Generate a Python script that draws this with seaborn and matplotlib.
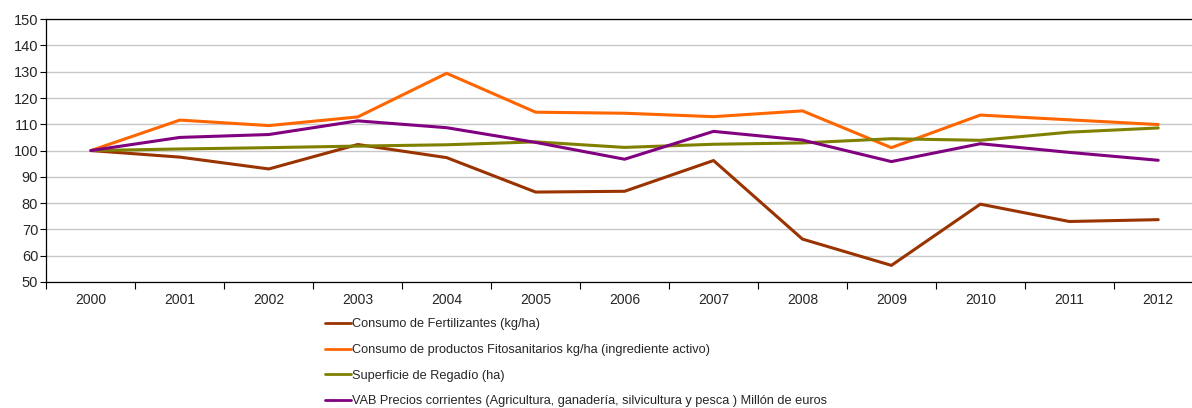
import numpy as np
import pandas as pd
import matplotlib.pyplot as plt
from matplotlib.ticker import FixedLocator
import seaborn as sns

years = [str(y) for y in range(2000, 2013)]
fertilizantes = [100, 97.5, 93.0, 102.3, 97.3, 84.2, 84.5, 96.2, 66.3, 56.3, 79.6, 73.0, 73.7]
fitosanitarios = [100, 111.6, 109.5, 112.8, 129.4, 114.6, 114.2, 112.9, 115.1, 101.1, 113.5, 111.7, 109.9]
regadio = [100, 100.6, 101.1, 101.7, 102.2, 103.3, 101.2, 102.4, 102.9, 104.5, 103.9, 107.0, 108.6]
vab = [100, 105.0, 106.1, 111.3, 108.7, 103.1, 96.7, 107.3, 104.0, 95.8, 102.6, 99.3, 96.3]

series_names = [
    "Consumo de Fertilizantes (kg/ha)",
    "Consumo de productos Fitosanitarios kg/ha (ingrediente activo)",
    "Superficie de Regadío (ha)",
    "VAB Precios corrientes (Agricultura, ganadería, silvicultura y pesca ) Millón de euros",
]
series_values = [fertilizantes, fitosanitarios, regadio, vab]
colors = ["#993300", "#FF6600", "#808000", "#800080"]

rows = []
for name, vals in zip(series_names, series_values):
    for i, v in enumerate(vals):
        rows.append({"idx": i, "valor": v, "serie": name})
df = pd.DataFrame(rows)

sns.set_style("white")
plt.rcParams["font.family"] = ["Liberation Sans", "DejaVu Sans"]

fig = plt.figure(figsize=(11.92, 4.08), dpi=100)
ax = fig.add_axes([0.039, 0.309, 0.961, 0.644])

sns.lineplot(data=df, x="idx", y="valor", hue="serie", hue_order=series_names,
             palette=dict(zip(series_names, colors)), linewidth=2.2, ax=ax,
             legend=False)

ax.set_xlim(-0.5, 12.38)
ax.set_ylim(50, 150)
ax.set_yticks(np.arange(50, 151, 10))
ax.yaxis.grid(True, color="#c8c8c8", linewidth=1)
ax.set_axisbelow(True)

ax.set_xticks(range(len(years)))
ax.set_xticklabels(years)
ax.xaxis.set_minor_locator(FixedLocator(np.arange(-0.5, 13, 1)))
ax.tick_params(axis="x", which="major", length=0, labelsize=10, pad=8)
ax.tick_params(axis="x", which="minor", length=5, width=0.8, color="black", bottom=True)
ax.tick_params(axis="y", length=4, width=0.8, color="black", labelsize=10.5, left=True, pad=2)

ax.set_xlabel("")
ax.set_ylabel("")
for side in ["left", "bottom", "top"]:
    ax.spines[side].set_color("black")
    ax.spines[side].set_linewidth(0.9)
ax.spines["right"].set_visible(False)

handles = [plt.Line2D([], [], color=c, linewidth=2) for c in colors]
fig.legend(handles, series_names, loc="upper left", bbox_to_anchor=(0.268, 0.232),
           frameon=False, fontsize=9.2, handlelength=2.1, handletextpad=0.05,
           labelspacing=1.07, borderaxespad=0)

fig.savefig("out.png", dpi=100)
